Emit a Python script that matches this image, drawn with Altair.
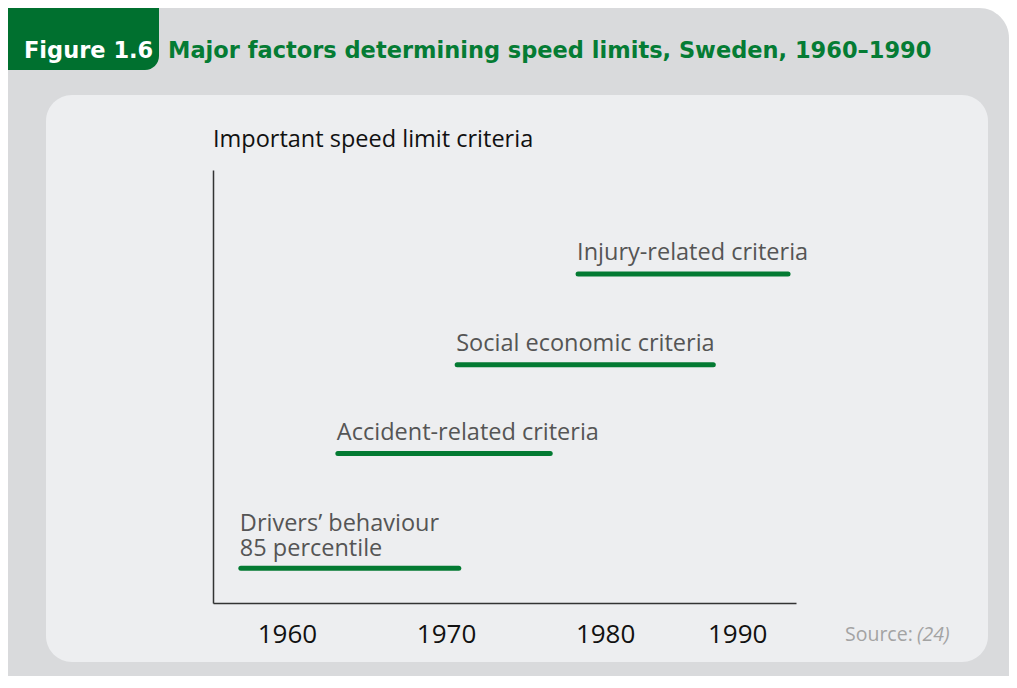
import altair as alt
import pandas as pd

# ---- data ----
criteria = ["Drivers’ behaviour\n85 percentile", "Accident-related criteria",
            "Social economic criteria", "Injury-related criteria"]
start_year = [1957.1, 1963.2, 1970.7, 1978.3]
end_year = [1970.8, 1976.55, 1986.8, 1991.5]
level = [0.8, 3.45, 5.5, 7.6]

tick_positions = [1960, 1970, 1980, 1988.3]
tick_labels = ["1960", "1970", "1980", "1990"]

fig_label = "Figure 1.6"
fig_title = "Major factors determining speed limits, Sweden, 1960–1990"
y_title = "Important speed limit criteria"
source_label = "Source:"
source_ref = "(24)"

GREEN = "#037a32"
TAB_GREEN = "#00702f"
OUTER = "#d9dadc"
INNER = "#edeef0"
BODY_FONT = "Open Sans"
HEAD_FONT = "DejaVu Sans"

df = pd.DataFrame({"criterion": criteria, "start": start_year, "end": end_year, "level": level})
df["lines"] = df["criterion"].str.split("\n")
one = pd.DataFrame({"a": [0]})

xscale = alt.Scale(domain=[1955.35, 1992.0], nice=False, zero=False)
yscale = alt.Scale(domain=[0, 10], nice=False, zero=True)

label_expr = "[" + ",".join(f"'{t}'" for t in tick_labels) + "][indexof([" + \
    ",".join(str(v) for v in tick_positions) + "], datum.value)]"

outer = alt.Chart(one).mark_rect(color=OUTER, cornerRadiusTopRight=30).encode(
    x=alt.value(-205), x2=alt.value(796), y=alt.value(-162), y2=alt.value(506))
inner = alt.Chart(one).mark_rect(color=INNER, cornerRadius=26).encode(
    x=alt.value(-167), x2=alt.value(775), y=alt.value(-75), y2=alt.value(492))
tab = alt.Chart(one).mark_rect(color=TAB_GREEN, cornerRadiusBottomRight=14).encode(
    x=alt.value(-205), x2=alt.value(-54), y=alt.value(-162), y2=alt.value(-100))

fig_text = alt.Chart(one).mark_text(
    text=fig_label, font=HEAD_FONT, fontWeight="bold", fontSize=22.5, color="white",
    align="left", baseline="alphabetic").encode(x=alt.value(-189), y=alt.value(-112))
title_text = alt.Chart(one).mark_text(
    text=fig_title, font=HEAD_FONT, fontWeight="bold", fontSize=22.5, color="#057c34",
    align="left", baseline="alphabetic").encode(x=alt.value(-45), y=alt.value(-112))
ytitle_text = alt.Chart(one).mark_text(
    text=y_title, font=BODY_FONT, fontSize=23.5, color="#111111",
    align="left", baseline="alphabetic").encode(x=alt.value(0), y=alt.value(-23))
src1 = alt.Chart(one).mark_text(
    text=source_label, font=BODY_FONT, fontSize=19.5, color="#a3a3a3",
    align="left", baseline="alphabetic").encode(x=alt.value(632), y=alt.value(471))
src2 = alt.Chart(one).mark_text(
    text=source_ref, font=BODY_FONT, fontSize=19.5, fontStyle="italic", color="#a3a3a3",
    align="left", baseline="alphabetic").encode(x=alt.value(704), y=alt.value(471))

bars = alt.Chart(df).mark_rule(color=GREEN, strokeWidth=5, strokeCap="round").encode(
    x=alt.X("start:Q", scale=xscale,
            axis=alt.Axis(values=tick_positions, labelExpr=label_expr, title=None,
                          grid=False, ticks=False, tickSize=0, labelPadding=39,
                          labelBaseline="alphabetic", labelFontSize=26, labelFont=BODY_FONT,
                          labelColor="#111111", domainColor="#333333", domainWidth=1.5,
                          labelFlush=False, labelOverlap=False, zindex=1)),
    x2="end:Q",
    y=alt.Y("level:Q", scale=yscale,
            axis=alt.Axis(labels=False, ticks=False, grid=False, title=None,
                          domainColor="#333333", domainWidth=1.5, zindex=1)),
)

label_enc = dict(
    x=alt.X("start:Q", scale=xscale),
    y=alt.Y("level:Q", scale=yscale),
    text="lines",
)
label_style = dict(font=BODY_FONT, fontSize=23.5, color="#555555", align="left",
                   baseline="alphabetic", dx=-1, lineHeight=25)

labels_single = alt.Chart(df).transform_filter("length(datum.lines) == 1").mark_text(
    dy=-14, **label_style).encode(**label_enc)
labels_multi = alt.Chart(df).transform_filter("length(datum.lines) > 1").mark_text(
    dy=-37, **label_style).encode(**label_enc)

chart = alt.layer(outer, inner, tab, fig_text, title_text, ytitle_text, src1, src2,
                  bars, labels_single, labels_multi).properties(
    width=583, height=433,
    padding={"left": 205, "top": 162, "right": 213, "bottom": 73},
    autosize=alt.AutoSizeParams(type="none"),
    background="white",
).configure_view(stroke=None, fill=None)

chart.save("out.html", embed_options={"renderer": "svg", "actions": False})
